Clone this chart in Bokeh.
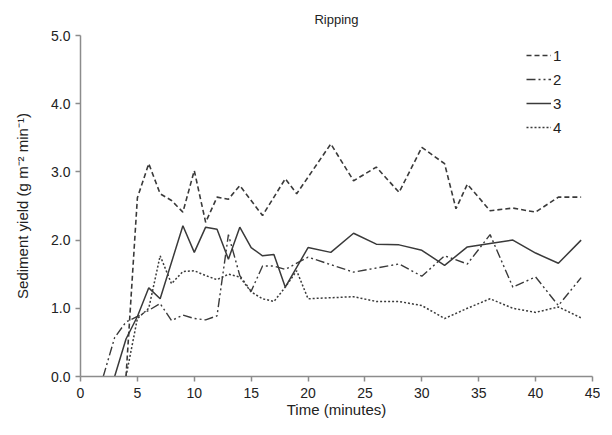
from bokeh.plotting import figure
from bokeh.models import Legend, LegendItem, Range1d, FixedTicker, CustomJSTickFormatter
from bokeh.embed import file_html
from bokeh.resources import INLINE

# Series 1 (dashed)
t1 = [4, 5, 6, 7, 8, 9, 10, 11, 12, 13, 14, 16, 18, 19, 22, 24, 26, 28, 30, 32, 33, 34, 36, 38, 40, 42, 44]
y1 = [0.0, 2.62, 3.12, 2.68, 2.58, 2.41, 3.02, 2.26, 2.63, 2.60, 2.80, 2.36, 2.90, 2.68, 3.41, 2.87, 3.07, 2.70, 3.36, 3.12, 2.46, 2.82, 2.43, 2.47, 2.41, 2.63, 2.63]
# Series 2 (dash-dot)
t2 = [2, 3, 4, 5, 6, 7, 8, 9, 10, 11, 12, 13, 14, 15, 16, 17, 18, 20, 24, 28, 30, 32, 34, 36, 38, 40, 42, 44]
y2 = [0.0, 0.57, 0.80, 0.88, 0.97, 1.07, 0.82, 0.90, 0.85, 0.83, 0.89, 2.08, 1.48, 1.25, 1.62, 1.62, 1.57, 1.75, 1.53, 1.65, 1.47, 1.77, 1.65, 2.08, 1.31, 1.46, 1.04, 1.45]
# Series 3 (solid)
t3 = [3, 4, 5, 6, 7, 9, 10, 11, 12, 13, 14, 15, 16, 17, 18, 20, 22, 24, 26, 28, 30, 32, 34, 36, 38, 40, 42, 44]
y3 = [0.0, 0.55, 0.88, 1.30, 1.14, 2.21, 1.82, 2.19, 2.16, 1.72, 2.19, 1.89, 1.77, 1.79, 1.31, 1.89, 1.82, 2.10, 1.94, 1.93, 1.85, 1.63, 1.90, 1.95, 2.00, 1.81, 1.66, 2.00]
# Series 4 (dotted)
t4 = [4, 5, 6, 7, 8, 9, 10, 11, 12, 13, 14, 15, 16, 17, 18, 19, 20, 24, 26, 28, 30, 32, 34, 36, 38, 40, 42, 44]
y4 = [0.0, 0.85, 1.00, 1.77, 1.36, 1.54, 1.55, 1.48, 1.42, 1.50, 1.46, 1.24, 1.14, 1.10, 1.31, 1.55, 1.14, 1.17, 1.10, 1.10, 1.04, 0.85, 1.00, 1.14, 1.00, 0.94, 1.02, 0.86]

labels = ["1", "2", "3", "4"]
x_ticks = [0, 5, 10, 15, 20, 25, 30, 35, 40, 45]
y_ticks = [0, 1, 2, 3, 4, 5]

FONT = "Liberation Sans"
GREY = "#8c8c8c"
LINE = "#3a3a3a"

p = figure(width=600, height=425, output_backend="svg", toolbar_location=None,
           x_range=Range1d(0, 45), y_range=Range1d(0, 5),
           min_border_left=80, min_border_right=8, min_border_top=35, min_border_bottom=49)
p.title.text = "Ripping"
p.title.align = "center"
p.title.vertical_align = "middle"
p.title.text_font = FONT
p.title.text_font_size = "13px"
p.title.text_font_style = "normal"
p.title.text_color = "#222222"
p.title.offset = -6
p.title.standoff = 16

p.xgrid.visible = False
p.ygrid.visible = False
p.outline_line_color = None

for ax in (p.xaxis[0], p.yaxis[0]):
    ax.axis_line_color = GREY
    ax.axis_line_width = 1.5
    ax.major_tick_line_color = GREY
    ax.major_tick_line_width = 1.5
    ax.major_tick_out = 5
    ax.major_tick_in = 0
    ax.minor_tick_line_color = None
    ax.major_label_text_font = FONT
    ax.major_label_text_font_size = "14px"
    ax.major_label_text_color = "#222222"
    ax.axis_label_text_font = FONT
    ax.axis_label_text_font_size = "15px"
    ax.axis_label_text_font_style = "normal"
    ax.axis_label_text_color = "#222222"

p.xaxis[0].ticker = FixedTicker(ticks=x_ticks)
p.yaxis[0].ticker = FixedTicker(ticks=y_ticks)
p.yaxis[0].formatter = CustomJSTickFormatter(code="return tick.toFixed(1);")
p.xaxis[0].axis_label = "Time (minutes)"
p.yaxis[0].axis_label = "Sediment yield (g m\u207b\u00b2 min\u207b\u00b9)"
p.xaxis[0].major_label_standoff = 6
p.xaxis[0].axis_label_standoff = 0
p.yaxis[0].major_label_standoff = 5
p.yaxis[0].axis_label_standoff = 17

r1 = p.line(t1, y1, line_color=LINE, line_width=1.6, line_dash="5 3")
r2 = p.line(t2, y2, line_color=LINE, line_width=1.4, line_dash="9 3 2 3 2 3")
r3 = p.line(t3, y3, line_color=LINE, line_width=1.5)
r4 = p.line(t4, y4, line_color=LINE, line_width=1.5, line_dash="2 2")

legend = Legend(items=[LegendItem(label=labels[0], renderers=[r1]),
                       LegendItem(label=labels[1], renderers=[r2]),
                       LegendItem(label=labels[2], renderers=[r3]),
                       LegendItem(label=labels[3], renderers=[r4])],
                location=(446, 239))
legend.border_line_color = None
legend.background_fill_alpha = 0
legend.padding = 0
legend.margin = 0
legend.spacing = 4
legend.label_height = 20
legend.glyph_height = 20
legend.glyph_width = 25
legend.label_standoff = 2
legend.label_text_font = FONT
legend.label_text_font_size = "15px"
legend.label_text_color = "#222222"
p.add_layout(legend, "center")

open("out.html", "w").write(file_html(p, INLINE))
